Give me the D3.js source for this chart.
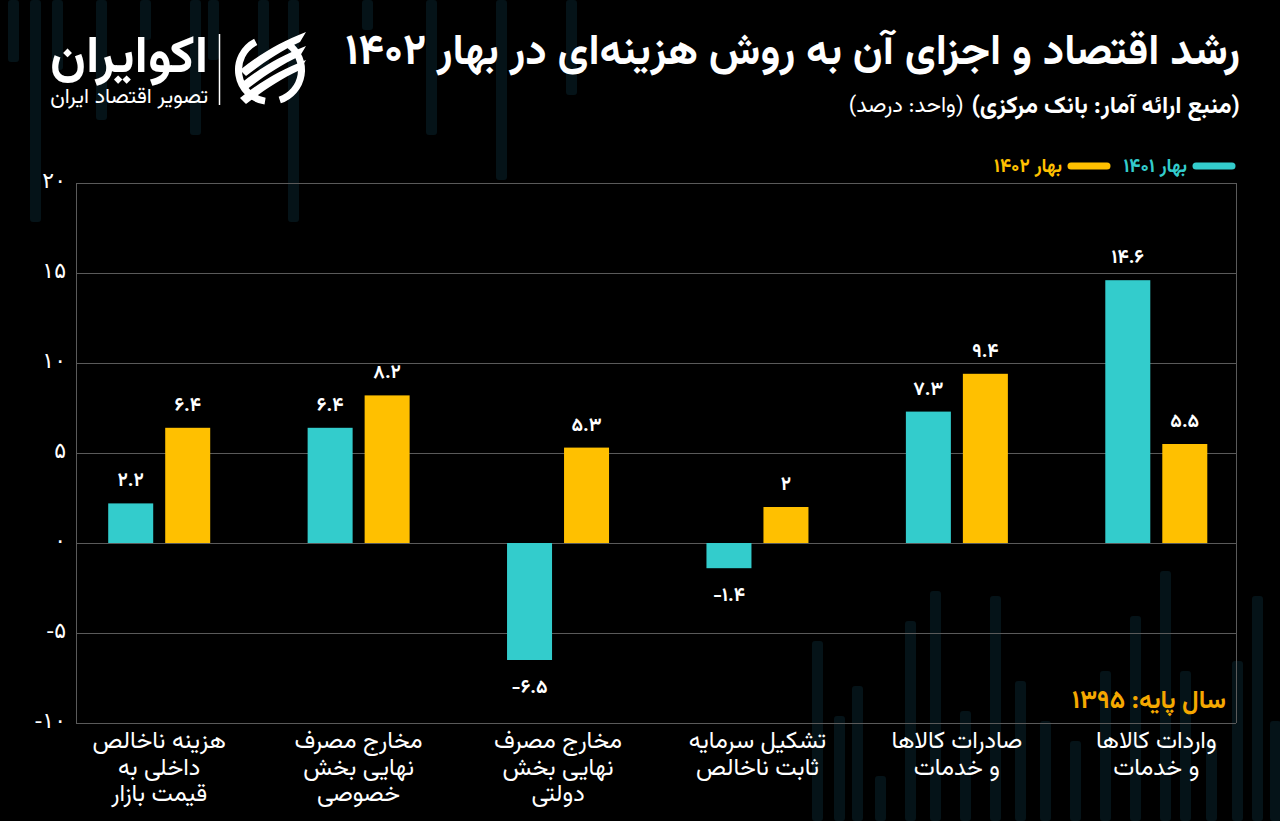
<!DOCTYPE html>
<html lang="fa">
<head>
<meta charset="utf-8">
<script src="https://cdn.jsdelivr.net/npm/d3@7/dist/d3.min.js"></script>
<style>
  html, body { margin: 0; padding: 0; background: #000; }
  svg { display: block; }
  text { font-family: "Vazirmatn", "Noto Sans Arabic", "DejaVu Sans", sans-serif; }
</style>
</head>
<body>
<svg id="chart" width="1280" height="821"></svg>
<script>
// ---------- data ----------
const categories = [
  ["هزینه ناخالص", "داخلی به", "قیمت بازار"],
  ["مخارج مصرف", "نهایی بخش", "خصوصی"],
  ["مخارج مصرف", "نهایی بخش", "دولتی"],
  ["تشکیل سرمایه", "ثابت ناخالص"],
  ["صادرات کالاها", "و خدمات"],
  ["واردات کالاها", "و خدمات"]
];
const seriesNames = ["بهار ۱۴۰۱", "بهار ۱۴۰۲"];
const spring1401 = [2.2, 6.4, -6.5, -1.4, 7.3, 14.6];
const spring1402 = [6.4, 8.2, 5.3, 2, 9.4, 5.5];
const yTicks = [-10, -5, 0, 5, 10, 15, 20];
const titleText = "رشد اقتصاد و اجزای آن به روش هزینه‌ای در بهار ۱۴۰۲";
const subtitleBold = "(منبع ارائه آمار: بانک مرکزی)";
const subtitleReg = "(واحد: درصد)";
const baseYearNote = "سال پایه: ۱۳۹۵";
// decorative background stripes (purely ornamental)
const decoTop = [[8,62],[30,222],[52,70],[96,120],[140,40],[190,135],[208,60],[258,70],[288,222],[362,30],[426,135],[496,180],[566,95]];
const decoBottom = [[812,180],[834,105],[852,135],[875,45],[905,200],[930,230],[960,110],[990,225],[1015,140],[1040,100],[1070,80],[1100,150],[1130,205],[1160,250],[1180,150],[1206,80],[1232,160],[1252,225],[1270,100]];

// ---------- helpers ----------
const faDigits = "۰۱۲۳۴۵۶۷۸۹";
const toFa = v => String(v).replace(/\d/g, d => faDigits[+d]);

const colors = ["#33CCCC", "#FFC000"];
const W = 1280, H = 821;
const plot = { left: 76, right: 1236, top: 183, bottom: 723 };

const svg = d3.select("#chart");
svg.append("rect").attr("width", W).attr("height", H).attr("fill", "#000");

// decorative stripes
const deco = svg.append("g").attr("fill", "#0a2630").attr("opacity", 0.5);
deco.selectAll("rect.t").data(decoTop).join("rect").attr("class", "t")
  .attr("x", d => d[0]).attr("y", 0).attr("width", 11).attr("height", d => d[1]).attr("rx", 3);
deco.selectAll("rect.b").data(decoBottom).join("rect").attr("class", "b")
  .attr("x", d => d[0]).attr("y", d => H - d[1]).attr("width", 11).attr("height", d => d[1]).attr("rx", 3);

// ---------- scales ----------
const y = d3.scaleLinear().domain([-10, 20]).range([plot.bottom, plot.top]);
const x0 = d3.scaleBand().domain(d3.range(categories.length)).range([59.5, 1256]).padding(0);
const x1 = d3.scaleBand().domain([0, 1])
  .range([x0.bandwidth() / 2 - 51, x0.bandwidth() / 2 + 51]).paddingInner(12 / 57);

// ---------- grid ----------
const grid = svg.append("g").attr("stroke", "#5a5a5a").attr("stroke-width", 1);
grid.selectAll("line").data(yTicks).join("line")
  .attr("x1", plot.left).attr("x2", plot.right)
  .attr("y1", d => Math.round(y(d)) + 0.5).attr("y2", d => Math.round(y(d)) + 0.5);
grid.append("line").attr("x1", plot.left + 0.5).attr("x2", plot.left + 0.5).attr("y1", plot.top).attr("y2", plot.bottom);
grid.append("line").attr("x1", plot.right + 0.5).attr("x2", plot.right + 0.5).attr("y1", plot.top).attr("y2", plot.bottom);

// y axis labels via d3 axis
const yAxis = d3.axisLeft(y).tickValues(yTicks).tickSize(0).tickPadding(0).tickFormat(d => toFa(d));
const yg = svg.append("g").attr("transform", `translate(${plot.left - 10},0)`).call(yAxis);
yg.select(".domain").remove();
yg.selectAll("text").attr("fill", "#fff").attr("font-size", 22)
  .style("font-family", "'DejaVu Sans', sans-serif").attr("direction", "ltr").attr("dy", "0.2em");

// ---------- bars ----------
const rows = categories.map((c, i) => ({ i, vals: [spring1401[i], spring1402[i]] }));
const groups = svg.append("g").selectAll("g").data(rows).join("g")
  .attr("transform", d => `translate(${x0(d.i)},0)`);
groups.selectAll("rect").data(d => d.vals.map((v, s) => ({ v, s }))).join("rect")
  .attr("x", d => x1(d.s)).attr("width", x1.bandwidth())
  .attr("y", d => y(Math.max(0, d.v))).attr("height", d => Math.abs(y(d.v) - y(0)))
  .attr("fill", d => colors[d.s]);
groups.selectAll("text.val").data(d => d.vals.map((v, s) => ({ v, s }))).join("text").attr("class", "val")
  .attr("x", d => x1(d.s) + x1.bandwidth() / 2)
  .attr("y", d => d.v >= 0 ? y(d.v) - 17 : y(d.v) + 33)
  .attr("text-anchor", "middle").attr("direction", "ltr")
  .attr("fill", "#fff").attr("font-size", 19).attr("font-weight", "bold")
  .text(d => toFa(d.v));

// ---------- category labels ----------
const xl = svg.append("g").selectAll("text").data(rows).join("text")
  .attr("x", d => x0(d.i) + x0.bandwidth() / 2)
  .attr("text-anchor", "middle").attr("direction", "rtl")
  .attr("fill", "#fff").attr("font-size", 24);
xl.selectAll("tspan").data(d => categories[d.i]).join("tspan")
  .attr("x", function () { return d3.select(this.parentNode).attr("x"); })
  .attr("y", (d, k) => 748 + k * 26.5)
  .text(d => d);

// ---------- title ----------
function fitText(sel, width) {
  const len = sel.node().getComputedTextLength();
  if (len > 0) {
    const fs = parseFloat(sel.attr("font-size"));
    sel.attr("font-size", fs * width / len);
  }
}
const title = svg.append("text").attr("x", 1240).attr("y", 64)
  .attr("direction", "rtl").attr("text-anchor", "start")
  .attr("fill", "#fff").attr("font-size", 34).attr("font-weight", "bold").text(titleText);
fitText(title, 895);

const subB = svg.append("text").attr("x", 1240).attr("y", 113)
  .attr("direction", "rtl").attr("text-anchor", "start").attr("fill", "#fff")
  .attr("font-size", 24).attr("font-weight", "bold").text(subtitleBold);
const subBLen = subB.node().getComputedTextLength();
svg.append("text").attr("x", 1240 - subBLen - 8).attr("y", 112)
  .attr("direction", "rtl").attr("text-anchor", "start").attr("fill", "#fff")
  .attr("font-size", 22).text(subtitleReg);

// ---------- legend ----------
const legendX = [1232, 1107];
const leg = svg.append("g").selectAll("g").data(seriesNames).join("g");
leg.append("line")
  .attr("x1", (d, i) => legendX[i]).attr("x2", (d, i) => legendX[i] - 36)
  .attr("y1", 166).attr("y2", 166)
  .attr("stroke", (d, i) => colors[i]).attr("stroke-width", 7).attr("stroke-linecap", "round");
leg.append("text")
  .attr("x", (d, i) => legendX[i] - 45).attr("y", 172)
  .attr("direction", "rtl").attr("text-anchor", "start")
  .attr("fill", (d, i) => colors[i]).attr("font-size", 19).attr("font-weight", "bold")
  .text(d => d);

// ---------- base year note ----------
const note = svg.append("text").attr("x", 1226).attr("y", 708)
  .attr("direction", "rtl").attr("text-anchor", "start")
  .attr("fill", "#F5A800").attr("font-size", 24).attr("font-weight", "bold").text(baseYearNote);
fitText(note, 154);

// ---------- logo ----------
const logo = svg.append("g");
const brand = logo.append("text").attr("x", 208).attr("y", 72)
  .attr("direction", "rtl").attr("text-anchor", "start")
  .attr("fill", "#fff").attr("font-size", 40).attr("font-weight", "bold").text("اکوایران");
fitText(brand, 158);
const tag = logo.append("text").attr("x", 208).attr("y", 103)
  .attr("direction", "rtl").attr("text-anchor", "start")
  .attr("fill", "#fff").attr("font-size", 16).text("تصویر اقتصاد ایران");
fitText(tag, 158);
logo.append("line").attr("x1", 219.5).attr("x2", 219.5).attr("y1", 34).attr("y2", 105)
  .attr("stroke", "#fff").attr("stroke-width", 1.5);
// icon: ring with three sweeping blades
const icon = logo.append("g").attr("transform", "translate(270,70)");
const arc = d3.arc().innerRadius(28).outerRadius(35);
icon.append("path").attr("d", arc({ startAngle: -Math.PI * 0.95, endAngle: -Math.PI * 0.15 })).attr("fill", "#fff");
icon.append("path").attr("d", arc({ startAngle: Math.PI * 0.2, endAngle: Math.PI * 0.9 })).attr("fill", "#fff");
const blades = [[-14], [0], [14]];
icon.selectAll("path.blade").data(blades).join("path").attr("class", "blade")
  .attr("d", d => {
    const o = d[0];
    return `M${-30},${o + 14} C${-10},${o - 2} ${10},${o - 14} ${36},${o - 24} L${30},${o - 14} C${8},${o - 4} ${-8},${o + 8} ${-24},${o + 20} Z`;
  })
  .attr("fill", "#fff");
</script>
</body>
</html>
